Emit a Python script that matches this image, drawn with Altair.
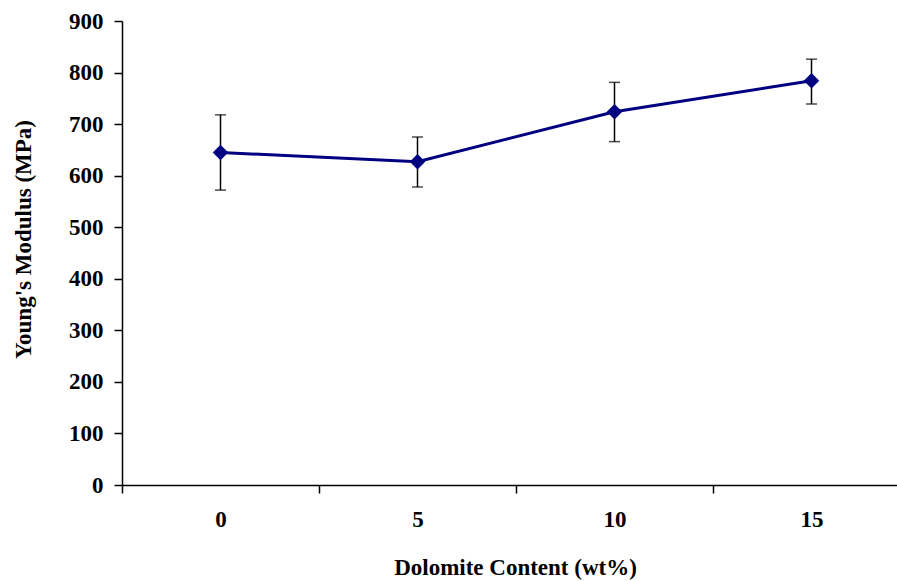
import altair as alt
import pandas as pd

dolomite = [0, 5, 10, 15]
modulus = [645, 627, 724, 784]
err_low = [572, 578, 666, 739]
err_high = [718, 675, 781, 826]

df = pd.DataFrame({"x": dolomite, "y": modulus, "lo": err_low, "hi": err_high})

FONT = "Liberation Serif"
FS = 23
W, H = 775, 464
px_per_unit = 39.4
xmax = -2.5 + W / px_per_unit
half = 2.5 * px_per_unit

xscale = alt.Scale(domain=[-2.5, xmax], nice=False, zero=False)
yscale = alt.Scale(domain=[0, 900], nice=False)

xaxis = alt.Axis(
    values=dolomite, tickOffset=-half, labelOffset=half,
    title="Dolomite Content (wt%)", titleX=393, titleY=89, titleBaseline="alphabetic",
    labelFont=FONT, labelFontWeight="bold", labelFontSize=FS, labelColor="black",
    titleFont=FONT, titleFontWeight="bold", titleFontSize=FS, titleColor="black",
    domainColor="black", domainWidth=1.5, tickColor="black", tickWidth=1.5, tickSize=8,
    labelPadding=15, grid=False,
)
yaxis = alt.Axis(
    values=list(range(0, 901, 100)),
    title="Young's Modulus (MPa)", titleX=-99, titleY=218, titleBaseline="middle",
    titleAngle=270, titleAlign="center",
    labelFont=FONT, labelFontWeight="bold", labelFontSize=FS, labelColor="black",
    titleFont=FONT, titleFontWeight="bold", titleFontSize=FS, titleColor="black",
    domainColor="black", domainWidth=1.5, tickColor="black", tickWidth=1.5, tickSize=8,
    labelPadding=11, grid=False,
)

base = alt.Chart(df)

line = base.mark_line(color="#000080", strokeWidth=3).encode(
    x=alt.X("x:Q", scale=xscale, axis=xaxis),
    y=alt.Y("y:Q", scale=yscale, axis=yaxis),
)
rules = base.mark_rule(color="black", strokeWidth=1.5).encode(
    x="x:Q", y="lo:Q", y2="hi:Q"
)
cap_lo = base.mark_tick(color="black", thickness=1.5, size=11, orient="horizontal").encode(
    x="x:Q", y="lo:Q"
)
cap_hi = base.mark_tick(color="black", thickness=1.5, size=11, orient="horizontal").encode(
    x="x:Q", y="hi:Q"
)
points = base.mark_point(shape="diamond", filled=True, color="#000080", size=240, opacity=1).encode(
    x="x:Q", y="y:Q"
)

chart = alt.layer(rules, cap_lo, cap_hi, line, points).properties(
    width=W, height=H,
    autosize=alt.AutoSizeParams(type="none"),
    padding={"left": 122, "top": 21, "right": 0, "bottom": 96},
    background="white",
).configure_view(stroke=None)

chart.save("out.html", embed_options={"renderer": "svg", "actions": False})
